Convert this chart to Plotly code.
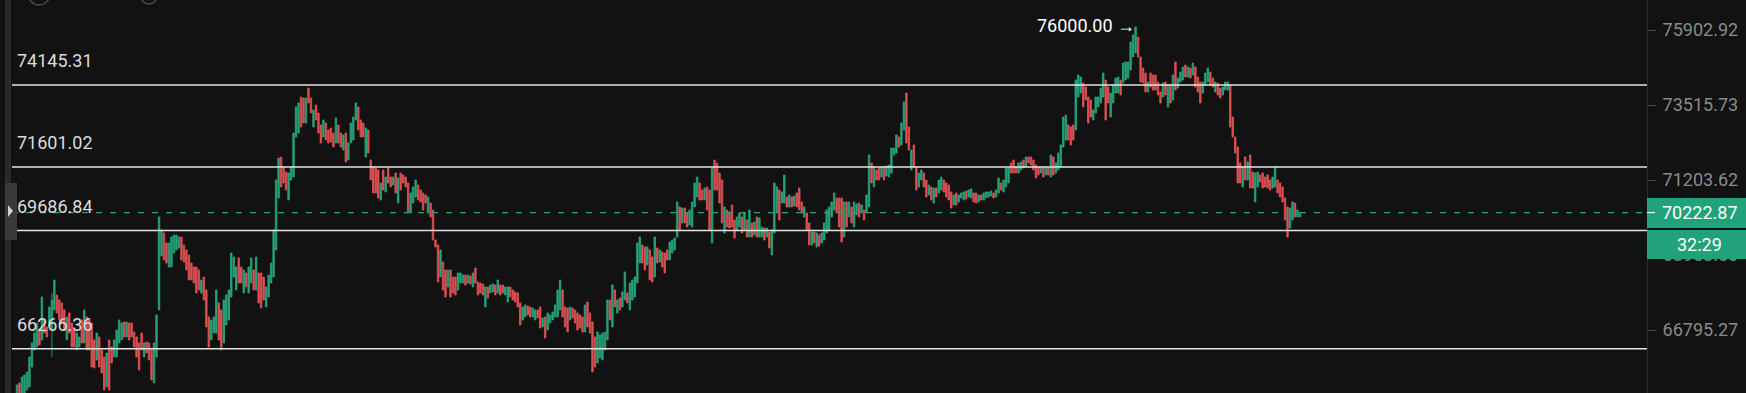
import math
import plotly.graph_objects as go

# ---------------- data (prices) ----------------
open_ = [
64835, 65306, 64835, 64973, 65111, 65194, 65752, 66230, 66315, 66797, 66513, 67082, 66882, 66882, 66797, 67368, 67800, 67656, 67570, 67368,
66513, 67282, 66996, 66797, 66230, 66315, 67082, 66428, 67168, 67082, 66996, 66513, 65949, 66598, 66230, 66033, 65194, 66513, 66315, 66033,
66033, 66428, 66513, 67025, 66598, 66996, 66996, 66740, 66598, 66428, 66712, 66033, 66456, 66428, 66230, 65306, 66033, 67368, 68936, 69615,
69319, 68613, 68613, 69024, 69112, 69171, 69496, 69260, 69112, 68965, 68730, 68613, 68613, 68526, 67858, 68321, 67944, 67168, 66513, 66712,
66712, 67570, 67368, 66428, 66939, 67082, 67742, 68321, 67944, 68877, 68613, 67858, 68438, 67858, 68147, 68526, 67944, 68438, 68438, 68321,
67454, 67742, 68147, 68321, 69112, 70660, 71906, 71600, 71447, 70600, 71204, 71295, 72521, 72644, 73767, 73736, 72955, 74050, 73736, 72830,
73516, 73266, 72893, 72521, 72955, 72737, 72799, 72644, 72336, 72893, 72644, 72120, 72644, 71814, 72336, 72428, 73048, 73454, 73048, 72955,
71906, 72737, 71814, 71600, 71600, 71508, 70600, 71508, 70841, 71569, 71295, 71053, 71417, 70510, 71417, 71356, 71295, 71113, 70210, 70510,
70691, 71053, 70902, 70811, 70751, 70210, 70510, 70300, 69407, 69260, 68321, 68759, 68526, 68031, 68526, 68321, 68321, 67944, 68147, 68147,
68380, 68147, 68351, 68031, 68584, 68176, 68147, 68118, 67454, 68031, 67858, 67887, 68089, 67858, 68089, 68089, 67800, 67598, 68031, 67944,
67887, 67858, 67570, 67082, 67168, 67483, 67454, 67168, 67082, 67368, 67454, 66882, 67168, 66797, 66996, 67082, 67168, 67168, 67368, 67944,
67454, 67425, 67082, 67425, 67368, 67282, 67225, 67168, 66740, 67598, 67282, 67025, 66598, 65865, 66005, 65949, 66230, 66513, 67656, 66882,
67944, 67282, 67713, 67454, 67656, 67858, 67368, 67656, 67742, 68147, 68730, 69260, 69201, 68672, 69112, 68906, 68321, 69171, 68759, 69053,
69024, 69112, 68818, 69024, 69112, 69496, 70390, 69912, 70360, 70210, 69852, 69793, 70390, 70691, 71113, 70902, 70600, 70993, 70902, 69319,
71814, 71722, 71417, 71204, 69615, 70300, 70240, 70450, 70001, 69704, 69793, 70091, 69704, 70001, 69496, 69912, 69555, 70091, 69496, 69496,
69763, 69496, 69644, 68965, 69615, 70210, 70902, 70510, 70510, 70691, 70390, 70691, 70420, 70811, 70962, 70540, 70091, 70210, 69912, 69260,
69644, 69201, 69555, 69319, 69407, 69615, 69704, 70091, 70300, 70660, 70660, 70660, 69496, 70540, 70091, 70390, 69793, 70151, 70510, 70210,
70300, 70210, 70390, 71722, 70993, 71508, 71569, 71295, 71600, 71325, 71295, 71417, 71967, 72028, 72521, 72274, 72737, 73893, 72830, 71508,
72274, 71600, 70993, 71204, 71417, 71204, 70751, 70993, 70510, 70962, 70811, 70902, 71204, 71113, 71053, 70842, 70450, 70811, 70540, 70660,
70600, 70872, 70691, 70660, 70811, 70811, 70540, 70751, 70600, 70660, 70691, 70721, 70811, 70691, 70811, 71113, 70842, 70993, 71113, 71722,
71814, 71600, 71417, 71508, 71814, 71600, 71906, 71906, 71814, 71661, 71600, 71417, 71569, 71356, 71569, 71295, 71906, 71417, 71508, 71600,
72213, 72428, 72893, 72830, 72893, 72737, 73767, 73893, 74208, 74082, 73767, 73673, 73048, 73266, 73454, 73579, 73767, 74303, 74082, 73141,
73579, 73893, 73893, 74303, 74208, 74303, 74367, 74620, 75035, 75163, 75677, 75035, 74684, 74525, 73924, 74525, 74462, 74462, 74240, 73924,
73767, 74240, 73454, 74145, 73673, 74875, 74050, 74240, 74303, 74780, 74398, 74684, 74462, 74716, 74398, 74240, 73893, 74145, 74240, 74557,
74367, 73924, 74208, 74050, 73830, 73987, 73987, 74145, 73141, 72521, 72213, 71722, 70993, 71906, 71204, 71967, 71447, 70540, 70993, 71356,
71417, 71295, 71356, 71204, 70962, 70993, 71204, 71113, 70993, 70660, 70390, 69763, 70001, 70510, 70091, 70091,
]
high = [
65250, 65306, 65473, 65528, 65612, 66033, 66428, 66712, 66996, 66797, 67742, 67082, 66882, 67454, 67858, 68234, 67800, 67656, 67570, 67368,
67168, 67282, 66996, 66797, 66712, 66598, 67082, 67368, 67168, 67082, 66996, 66513, 66712, 66598, 66230, 66033, 66146, 66513, 66315, 66513,
66797, 67082, 66996, 67025, 67025, 66996, 66996, 66740, 66598, 66428, 66712, 66428, 66456, 66428, 66230, 66428, 67225, 70091, 69704, 69615,
69319, 69319, 69496, 69555, 69555, 69496, 69496, 69260, 69112, 68965, 68730, 68613, 68613, 68526, 68234, 68321, 67944, 67168, 67082, 67168,
67944, 67570, 67368, 67656, 67800, 67944, 69024, 68906, 68613, 68877, 68613, 68526, 68438, 68613, 68877, 68526, 68906, 68438, 68438, 68321,
68031, 68380, 68730, 69704, 71204, 71875, 71906, 71600, 71447, 71417, 71600, 72644, 73454, 73579, 73767, 73736, 73736, 74050, 73736, 73360,
73516, 73266, 72893, 73048, 72955, 72737, 72799, 72644, 73110, 72893, 72644, 72583, 72644, 72336, 72955, 73141, 73579, 73454, 73048, 72955,
72799, 72737, 71814, 71600, 71600, 71508, 71113, 71508, 71295, 71569, 71295, 71295, 71417, 71264, 71417, 71356, 71295, 71113, 70811, 70993,
71204, 71053, 70902, 70811, 70751, 70691, 70510, 70300, 69407, 69260, 69112, 68759, 68526, 68526, 68526, 68321, 68321, 68438, 68438, 68380,
68380, 68380, 68351, 68438, 68584, 68176, 68147, 68118, 68031, 68031, 68089, 68118, 68089, 68234, 68089, 68089, 68031, 68031, 68031, 67944,
67887, 67858, 67570, 67454, 67512, 67483, 67454, 67425, 67368, 67368, 67454, 67139, 67168, 67282, 67225, 67311, 67512, 67944, 68234, 67944,
67454, 67425, 67454, 67425, 67368, 67282, 67225, 67168, 67512, 67598, 67282, 67025, 66598, 66740, 66655, 66712, 66740, 67656, 67656, 68089,
67944, 67656, 67713, 67887, 68467, 67858, 68147, 68234, 68321, 69319, 69496, 69260, 69201, 69201, 69112, 68906, 69496, 69171, 69112, 69053,
69024, 69112, 69348, 69407, 69466, 70540, 70390, 70360, 70360, 70210, 70300, 70540, 71113, 71295, 71113, 70902, 70962, 70993, 70902, 71569,
71814, 71722, 71417, 71204, 70390, 70300, 70240, 70450, 70001, 70091, 70210, 70091, 70210, 70001, 70300, 69912, 69942, 70091, 70061, 69793,
69763, 69763, 69644, 69704, 71113, 70993, 70902, 70842, 71356, 70691, 70751, 70691, 70721, 70811, 70962, 70540, 70390, 70210, 69912, 69644,
69644, 69615, 69555, 69615, 69912, 70300, 70390, 70540, 70811, 70660, 70660, 70660, 70540, 70540, 70540, 70390, 70540, 70480, 70510, 70450,
70300, 70751, 71967, 71722, 71600, 71508, 71569, 71600, 71600, 71630, 71661, 72182, 72182, 72583, 72521, 72955, 73610, 73893, 72830, 72120,
72274, 71600, 71417, 71508, 71417, 71204, 71053, 70993, 70962, 70962, 71204, 71295, 71204, 71113, 71053, 70842, 70751, 70811, 70751, 70811,
70842, 70872, 70902, 70932, 70811, 70811, 70751, 70751, 70811, 70842, 70842, 70872, 70811, 70902, 71264, 71113, 71204, 71569, 71569, 71722,
71814, 71600, 71722, 71753, 71814, 71906, 71906, 71906, 71814, 71661, 71600, 71600, 71569, 71600, 71569, 71967, 71906, 71722, 72028, 72274,
73141, 73204, 72893, 72830, 72893, 74303, 74462, 74398, 74208, 74082, 73767, 73673, 73360, 73767, 73767, 74050, 74525, 74303, 74082, 73893,
74145, 74367, 74398, 74303, 74843, 74875, 74875, 75516, 75741, 76000, 75677, 75035, 74684, 74525, 74240, 74525, 74462, 74462, 74240, 73924,
74208, 74240, 74145, 74145, 74462, 74875, 74367, 74557, 74716, 74780, 74716, 74684, 74843, 74716, 74398, 74240, 74240, 74525, 74684, 74557,
74367, 74240, 74208, 74050, 74082, 74240, 74240, 74145, 73141, 72521, 72213, 71722, 71600, 71906, 71753, 71967, 71447, 71417, 71447, 71356,
71417, 71295, 71356, 71204, 71295, 71600, 71204, 71113, 70993, 70660, 70390, 70360, 70540, 70510, 70300, 70222.87,
]
low = [
64835, 64835, 64835, 64973, 65111, 65194, 65752, 66230, 66315, 66372, 66513, 66712, 66598, 66882, 66033, 67368, 67282, 67082, 66996, 66797,
66513, 66712, 66315, 66315, 66230, 66315, 66428, 66428, 66230, 66230, 65752, 65724, 65949, 65752, 65584, 65111, 65194, 65111, 65865, 66033,
66033, 66428, 66513, 66598, 66598, 66513, 66598, 66315, 66033, 65668, 66230, 66033, 66146, 65949, 65389, 65306, 66033, 67368, 68936, 68818,
68730, 68613, 68613, 69024, 69112, 69171, 68818, 68759, 68526, 68234, 68234, 68147, 67858, 67944, 67858, 67656, 66882, 66315, 66513, 66712,
66712, 66513, 66230, 66428, 66939, 67082, 67742, 68321, 67944, 68147, 68147, 67858, 68031, 67858, 68147, 67944, 67944, 67570, 67425, 67656,
67454, 67742, 68147, 68321, 69112, 70660, 70993, 71113, 70902, 70600, 71204, 71295, 72521, 72644, 72830, 72955, 72955, 73579, 73266, 72830,
73048, 72644, 72336, 72521, 72428, 72336, 72367, 72213, 72336, 72336, 72213, 72120, 71753, 71814, 72336, 72428, 73048, 72737, 72521, 72521,
71906, 72028, 71204, 70811, 70811, 70660, 70600, 70902, 70841, 71113, 70993, 71053, 70811, 70510, 70902, 71113, 70993, 70240, 70210, 70510,
70691, 70600, 70540, 70300, 70510, 70210, 70091, 69407, 69201, 68176, 68321, 67944, 67742, 68031, 67742, 67858, 67800, 67944, 68147, 68147,
68089, 68147, 68118, 68031, 68147, 67800, 67858, 67800, 67454, 67713, 67858, 67887, 67800, 67858, 67800, 67858, 67800, 67598, 67742, 67656,
67598, 67454, 66939, 67082, 67168, 67225, 67168, 67168, 67082, 67139, 66854, 66882, 66570, 66797, 66996, 67082, 67168, 67168, 67368, 67168,
66882, 66740, 67082, 67139, 66996, 66797, 66854, 66740, 66740, 66882, 66712, 65612, 65752, 65865, 66005, 65949, 66230, 66513, 67082, 66882,
67454, 67282, 67368, 67454, 67656, 67570, 67368, 67656, 67742, 68147, 68730, 68730, 68526, 68672, 68234, 68176, 68321, 68730, 68759, 68613,
68438, 68818, 68818, 69024, 69112, 69496, 69704, 69912, 69912, 69793, 69852, 69793, 70390, 70691, 70600, 70600, 70600, 70300, 69704, 69319,
70902, 70902, 70510, 69912, 69615, 69793, 69763, 69793, 69466, 69704, 69793, 69615, 69704, 69496, 69496, 69496, 69555, 69496, 69496, 69496,
69407, 69496, 69171, 68965, 69615, 70210, 70001, 70510, 70510, 70390, 70390, 70390, 70420, 70390, 70300, 70210, 70091, 69704, 69260, 69260,
69319, 69201, 69230, 69319, 69407, 69615, 69704, 70091, 70300, 70210, 69793, 69348, 69496, 69793, 70091, 69912, 69793, 70151, 70091, 70210,
70001, 70210, 70390, 71113, 70993, 71204, 71204, 71295, 71204, 71325, 71295, 71417, 71967, 72028, 72213, 72274, 72737, 72336, 72120, 71508,
71600, 70902, 70993, 71204, 70993, 70691, 70751, 70600, 70510, 70691, 70811, 70902, 70842, 70691, 70600, 70360, 70450, 70450, 70540, 70660,
70600, 70630, 70691, 70660, 70540, 70510, 70540, 70600, 70600, 70660, 70691, 70721, 70660, 70691, 70811, 70902, 70842, 70993, 71113, 71417,
71417, 71417, 71417, 71508, 71569, 71600, 71722, 71661, 71508, 71264, 71356, 71417, 71295, 71356, 71356, 71295, 71356, 71417, 71508, 71600,
72213, 72428, 72428, 72274, 72428, 72737, 73767, 73893, 73454, 73673, 72955, 73141, 73048, 73266, 73454, 73579, 73767, 73048, 73579, 73141,
73579, 73893, 73893, 73830, 74208, 74303, 74367, 74620, 75035, 75163, 75035, 74240, 74208, 73924, 73924, 74082, 73987, 73987, 73830, 73579,
73767, 73830, 73454, 73579, 73673, 73987, 74050, 74240, 74303, 74398, 74398, 74367, 74462, 74082, 73924, 73579, 73893, 74145, 74240, 74145,
74082, 73924, 73830, 73736, 73830, 73987, 73987, 72830, 72521, 72028, 71113, 71113, 70993, 71204, 71204, 70962, 70962, 70540, 70993, 71143,
70962, 70993, 70962, 70902, 70962, 70993, 70811, 70691, 70540, 70001, 69496, 69763, 70001, 70091, 70091, 70091,
]
close = [
65250, 64835, 65473, 65528, 65612, 66033, 66428, 66712, 66996, 66372, 67742, 66712, 66598, 67454, 67656, 68234, 67282, 67082, 66996, 66797,
67168, 66712, 66315, 66315, 66712, 66598, 66428, 67368, 66230, 66230, 65752, 65724, 66712, 65752, 65584, 65111, 66146, 65111, 65865, 66513,
66797, 67082, 66996, 66598, 67025, 66513, 66598, 66315, 66033, 65668, 66230, 66428, 66146, 65949, 65389, 66428, 67225, 70091, 69704, 68818,
68730, 69319, 69496, 69555, 69555, 69496, 68818, 68759, 68526, 68234, 68234, 68147, 67858, 67944, 68234, 67656, 66882, 66315, 67082, 67168,
67944, 66513, 66230, 67656, 67800, 67944, 69024, 68906, 68613, 68147, 68147, 68526, 68031, 68613, 68877, 67944, 68906, 67570, 67425, 67656,
68031, 68380, 68730, 69704, 71204, 71875, 70993, 71113, 70902, 71417, 71600, 72644, 73454, 73579, 72830, 72955, 73736, 73579, 73266, 73360,
73048, 72644, 72336, 73048, 72428, 72336, 72367, 72213, 73110, 72336, 72213, 72583, 71753, 72336, 72955, 73141, 73579, 72737, 72521, 72521,
72799, 72028, 71204, 70811, 70811, 70660, 71113, 70902, 71295, 71113, 70993, 71295, 70811, 71264, 70902, 71113, 70993, 70240, 70811, 70993,
71204, 70600, 70540, 70300, 70510, 70691, 70091, 69407, 69201, 68176, 69112, 67944, 67742, 68526, 67742, 67858, 67800, 68438, 68438, 68380,
68089, 68380, 68118, 68438, 68147, 67800, 67858, 67800, 68031, 67713, 68089, 68118, 67800, 68234, 67800, 67858, 68031, 68031, 67742, 67656,
67598, 67454, 66939, 67454, 67512, 67225, 67168, 67425, 67368, 67139, 66854, 67139, 66570, 67282, 67225, 67311, 67512, 67944, 68234, 67168,
66882, 66740, 67454, 67139, 66996, 66797, 66854, 66740, 67512, 66882, 66712, 65612, 65752, 66740, 66655, 66712, 66740, 67656, 67082, 68089,
67454, 67656, 67368, 67887, 68467, 67570, 68147, 68234, 68321, 69319, 69496, 68730, 68526, 69201, 68234, 68176, 69496, 68730, 69112, 68613,
68438, 68818, 69348, 69407, 69466, 70540, 69704, 70360, 69912, 69793, 70300, 70540, 71113, 71295, 70600, 70600, 70962, 70300, 69704, 71569,
70902, 70902, 70510, 69912, 70390, 69793, 69763, 69793, 69466, 70091, 70210, 69615, 70210, 69496, 70300, 69496, 69942, 69496, 70061, 69793,
69407, 69763, 69171, 69704, 71113, 70993, 70001, 70842, 71356, 70390, 70751, 70390, 70721, 70390, 70300, 70210, 70390, 69704, 69260, 69644,
69319, 69615, 69230, 69615, 69912, 70300, 70390, 70540, 70811, 70210, 69793, 69348, 70540, 69793, 70540, 69912, 70540, 70480, 70091, 70450,
70001, 70751, 71967, 71113, 71600, 71204, 71204, 71600, 71204, 71630, 71661, 72182, 72182, 72583, 72213, 72955, 73610, 72336, 72120, 72120,
71600, 70902, 71417, 71508, 70993, 70691, 71053, 70600, 70962, 70691, 71204, 71295, 70842, 70691, 70600, 70360, 70751, 70450, 70751, 70811,
70842, 70630, 70902, 70932, 70540, 70510, 70751, 70600, 70811, 70842, 70842, 70872, 70660, 70902, 71264, 70902, 71204, 71569, 71569, 71417,
71417, 71417, 71722, 71753, 71569, 71906, 71722, 71661, 71508, 71264, 71356, 71600, 71295, 71600, 71356, 71967, 71356, 71722, 72028, 72274,
73141, 73204, 72428, 72274, 72428, 74303, 74462, 74398, 73454, 73673, 72955, 73141, 73360, 73767, 73767, 74050, 74525, 73048, 73579, 73893,
74145, 74367, 74398, 73830, 74843, 74875, 74875, 75516, 75741, 76000, 75035, 74240, 74208, 73924, 74240, 74082, 73987, 73987, 73830, 73579,
74208, 73830, 74145, 73579, 74462, 73987, 74367, 74557, 74716, 74398, 74716, 74367, 74843, 74082, 73924, 73579, 74240, 74525, 74684, 74145,
74082, 74240, 73830, 73736, 74082, 74240, 74240, 72830, 72521, 72028, 71113, 71113, 71600, 71204, 71753, 70962, 70962, 71417, 71447, 71143,
70962, 70993, 70962, 70902, 71295, 71600, 70811, 70691, 70540, 70001, 69496, 70360, 70540, 70091, 70300, 70222.87,
]

level_prices = [74145.31, 71601.02, 69686.84, 66266.36]
last_price = 70222.87
countdown_text = "32:29"
peak_price = 76000.00
axis_tick_prices = [75902.92, 73515.73, 71203.62, 68963.60, 66795.27]

# ---------------- layout constants ----------------
W, H = 1746, 393
ML, MR = 12, 99
PW = W - ML - MR
BG = "#121212"
GREEN = "#26a17b"
RED = "#dd4f52"
FONT = "Roboto"

n = min(len(open_), len(high), len(low), len(close))
xs = list(range(n))
peak_idx = max(range(n), key=lambda i: high[i])

first_px, last_px = 17, 1300
step = (last_px - first_px) / (n - 1)
x_range = [-(first_px - ML) / step, (n - 1) + (W - MR - last_px) / step]

l1, l2 = math.log10(75902.92), math.log10(66795.27)
per_px = (l1 - l2) / 300.0
y_range = [l2 - (H - 330) * per_px, l1 + 30 * per_px]


def pxx(p):
    return (p - ML) / PW


def pxy(p):
    return 1 - p / H


fig = go.Figure()
fig.add_trace(go.Candlestick(
    x=xs, open=open_[:n], high=high[:n], low=low[:n], close=close[:n],
    increasing=dict(line=dict(color=GREEN, width=0.9), fillcolor=GREEN),
    decreasing=dict(line=dict(color=RED, width=0.9), fillcolor=RED),
    whiskerwidth=0, hoverinfo="skip", showlegend=False,
))

shapes = []
annotations = []

# horizontal level lines with labels
for p in level_prices:
    shapes.append(dict(type="line", xref="paper", yref="y", x0=0, x1=1, y0=p, y1=p,
                       line=dict(color="#e4e4e4", width=1.5), layer="above"))
    annotations.append(dict(text=f"{p:.2f}", xref="paper", yref="y", x=pxx(15), y=math.log10(p),
                            xanchor="left", yanchor="middle", yshift=24, showarrow=False,
                            font=dict(family=FONT, size=18, color="#dcdcdc")))

# dashed last price line
shapes.append(dict(type="line", xref="paper", yref="y", x0=0, x1=1, y0=last_price, y1=last_price,
                   line=dict(color=GREEN, width=1.3, dash="6px,8px"), layer="above"))

# price tag boxes on the axis
shapes.append(dict(type="rect", xref="paper", yref="paper", x0=1, x1=1 + MR / PW,
                   y0=pxy(228), y1=pxy(198), fillcolor="#22a27a", line=dict(width=0), layer="above"))
shapes.append(dict(type="rect", xref="paper", yref="paper", x0=1, x1=1 + MR / PW,
                   y0=pxy(259), y1=pxy(230), fillcolor="#22a27a", line=dict(width=0), layer="above"))
shapes.append(dict(type="line", xref="paper", yref="y", x0=1, x1=1 + 8 / PW,
                   y0=last_price, y1=last_price, line=dict(color="#ffffff", width=1.2), layer="above"))
annotations.append(dict(text=f"{last_price:.2f}", xref="paper", yref="y", x=pxx(1700), y=math.log10(last_price),
                        xanchor="center", yanchor="middle", showarrow=False,
                        font=dict(family=FONT, size=18, color="#ffffff")))
annotations.append(dict(text=countdown_text, xref="paper", yref="paper", x=pxx(1700), y=pxy(244.5),
                        xanchor="center", yanchor="middle", showarrow=False,
                        font=dict(family=FONT, size=18, color="#ffffff")))

# peak annotation
annotations.append(dict(text=f"{peak_price:.2f} \u2192", xref="x", yref="y", x=peak_idx, y=math.log10(peak_price),
                        xanchor="right", yanchor="middle", xshift=1, yshift=2, showarrow=False,
                        font=dict(family=FONT, size=18, color="#ffffff")))

# left side panel strip and handle
shapes.append(dict(type="rect", xref="paper", yref="paper", x0=pxx(5), x1=pxx(11), y0=0, y1=1,
                   fillcolor="#2a2a2a", line=dict(width=0), layer="above"))
shapes.append(dict(type="rect", xref="paper", yref="paper", x0=pxx(5), x1=pxx(17), y0=pxy(240), y1=pxy(183),
                   fillcolor="#3a3a3a", line=dict(width=0), layer="above"))
tri = f"M {pxx(8)} {pxy(205)} L {pxx(8)} {pxy(217)} L {pxx(13)} {pxy(211)} Z"
shapes.append(dict(type="path", xref="paper", yref="paper", path=tri,
                   fillcolor="#d0d0d0", line=dict(width=0), layer="above"))

# faint toolbar icons cut off at the top edge
shapes.append(dict(type="circle", xref="paper", yref="paper", x0=pxx(28), x1=pxx(50), y0=pxy(5), y1=pxy(-17),
                   line=dict(color="#4a4a4a", width=1.5), layer="above"))
shapes.append(dict(type="circle", xref="paper", yref="paper", x0=pxx(141), x1=pxx(157), y0=pxy(4), y1=pxy(-12),
                   line=dict(color="#4a4a4a", width=1.5), layer="above"))

fig.update_layout(
    width=W, height=H,
    margin=dict(l=ML, r=MR, t=0, b=0, pad=0),
    paper_bgcolor=BG, plot_bgcolor=BG,
    showlegend=False,
    boxgap=0.42, boxgroupgap=0.0,
    shapes=shapes, annotations=annotations,
    font=dict(family=FONT),
    xaxis=dict(range=x_range, visible=False, rangeslider=dict(visible=False), fixedrange=True),
    yaxis=dict(type="log", range=y_range, side="right", showgrid=False, zeroline=False,
               tickvals=axis_tick_prices, ticktext=[f"{v:.2f}" for v in axis_tick_prices],
               ticks="outside", ticklen=8, tickcolor="#4a4a4a", tickwidth=1,
               ticklabelstandoff=3,
               tickfont=dict(family=FONT, size=18, color="#8a8a8a"),
               showline=True, linecolor="#2a2a2a", linewidth=1, fixedrange=True),
)

fig.write_html(
    "out.html",
    config={"displayModeBar": False, "staticPlot": True},
    post_script="document.body.style.margin='0';document.body.style.background='#121212';",
)
